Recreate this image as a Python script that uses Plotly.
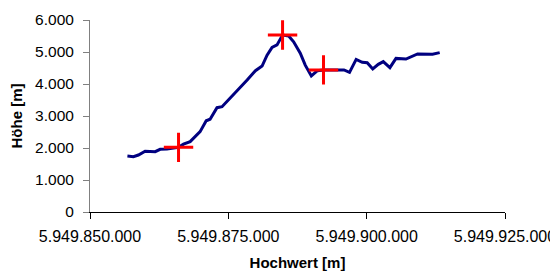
import plotly.graph_objects as go

# Hochwert offsets relative to 5,949,850 m and heights (Höhe)
X0 = 5949850
hochwert_offset = [6.76, 7.84, 8.75, 9.96, 11.78, 12.68, 13.9, 16.0, 16.9, 18.1, 19.9, 21.0, 21.7,
                   22.95, 23.86, 24.76, 26.6, 28.4, 29.9, 31.1, 32.0, 32.9, 33.8, 34.8, 35.9, 36.8,
                   38.0, 38.9, 40.0, 41.1, 42.2, 44.7, 45.9, 46.9, 48.1, 49.2, 50.1, 51.1, 52.1,
                   53.0, 54.2, 55.3, 57.1, 59.2, 61.9, 63.2]
hoehe = [1750, 1730, 1780, 1900, 1885, 1960, 1970, 2020, 2120, 2200, 2510, 2850, 2900,
         3260, 3290, 3450, 3810, 4125, 4415, 4560, 4900, 5145, 5220, 5530, 5500, 5320,
         4960, 4590, 4250, 4415, 4440, 4430, 4440, 4365, 4770, 4680, 4665, 4470, 4615,
         4700, 4510, 4800, 4780, 4940, 4930, 4980]

marker_offset = [16.0, 34.8, 42.2]
marker_hoehe = [2020, 5530, 4440]

x_tickvals = [5949850, 5949875, 5949900, 5949925]
x_ticktext = ["5.949.850.000", "5.949.875.000", "5.949.900.000", "5.949.925.000"]
y_tickvals = [0, 1000, 2000, 3000, 4000, 5000, 6000]

xs = [X0 + v for v in hochwert_offset]
mxs = [X0 + v for v in marker_offset]

fig = go.Figure()
fig.add_trace(go.Scatter(x=xs, y=hoehe, mode="lines",
                         line=dict(color="#000080", width=3), hoverinfo="skip"))
fig.add_trace(go.Scatter(x=mxs, y=marker_hoehe, mode="markers",
                         marker=dict(symbol="cross-thin", size=21,
                                     line=dict(color="#ff0000", width=3), color="#ff0000")))

font = "Liberation Sans, Arial, sans-serif"
fig.update_layout(
    width=550, height=263,
    margin=dict(l=82, r=53, t=12, b=59),
    paper_bgcolor="white", plot_bgcolor="white",
    showlegend=False,
    separators=",.",
    font=dict(family=font, color="black", size=15),
    xaxis=dict(range=[5949850, 5949925], tickvals=x_tickvals, ticktext=x_ticktext,
               showgrid=False, zeroline=False, showline=True, linecolor="black", linewidth=1,
               ticks="outside", ticklen=6, tickcolor="black", ticklabelstandoff=4,
               tickfont=dict(size=16, family=font, color="black"),
               title=dict(text="<b>Hochwert [m]</b>", font=dict(size=15, family=font), standoff=15),
               automargin=False),
    yaxis=dict(range=[0, 6000], tickvals=y_tickvals, tickformat=",d",
               showgrid=False, zeroline=False, showline=True, linecolor="#808080", linewidth=1,
               ticks="outside", ticklen=6, tickcolor="#808080", ticklabelstandoff=6,
               tickfont=dict(size=15.5, family=font, color="black"),
               title=dict(text="<b>Höhe [m]</b>", font=dict(size=15, family=font), standoff=13),
               automargin=False),
)

fig.write_html("out.html")
